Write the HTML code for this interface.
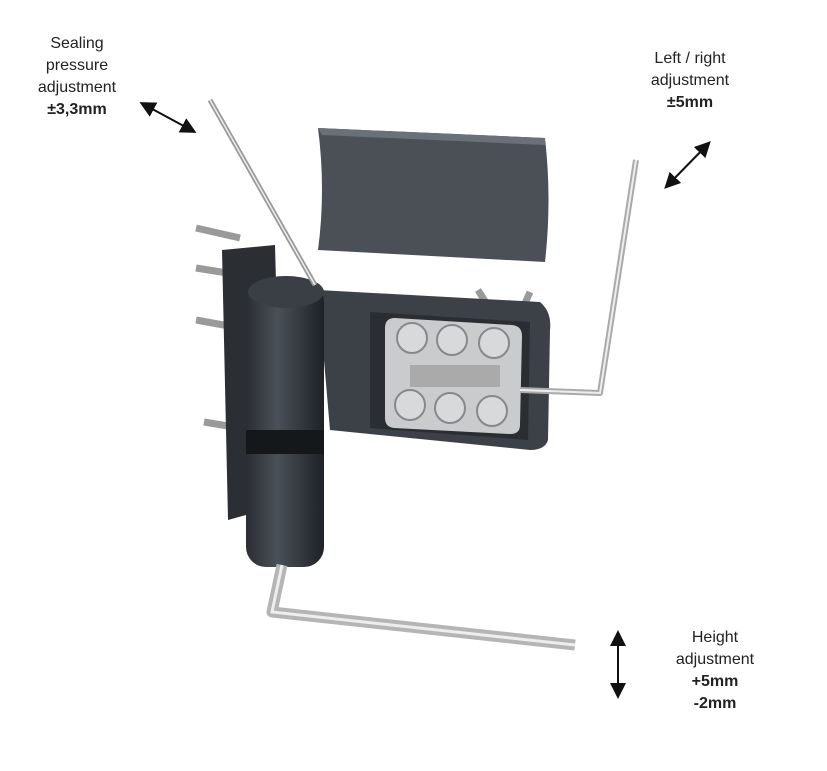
<!DOCTYPE html>
<html><head><meta charset="utf-8"><style>
html,body{margin:0;padding:0;background:#fff;}
.t{position:absolute;font-family:"Liberation Sans",sans-serif;font-size:16px;color:#222;text-align:center;line-height:22px;}
b{font-weight:bold;}
</style></head><body>
<div style="position:relative;width:827px;height:771px;overflow:hidden;">
<svg width="827" height="771" style="position:absolute;left:0;top:0">
<defs>
<marker id="a" markerWidth="8" markerHeight="8" refX="6" refY="4" orient="auto-start-reverse"><path d="M0,0 L8,4 L0,8 Z" fill="#111"/></marker>
<linearGradient id="cyl" x1="0" x2="1"><stop offset="0" stop-color="#2a2e33"/><stop offset="0.4" stop-color="#4a5058"/><stop offset="1" stop-color="#1e2226"/></linearGradient>
</defs>
<line x1="143" y1="104" x2="193" y2="131" stroke="#111" stroke-width="2" marker-start="url(#a)" marker-end="url(#a)"/>
<line x1="667" y1="186" x2="708" y2="144" stroke="#111" stroke-width="2" marker-start="url(#a)" marker-end="url(#a)"/>
<line x1="618" y1="634" x2="618" y2="695" stroke="#111" stroke-width="2" marker-start="url(#a)" marker-end="url(#a)"/>
<path d="M318,128 L545,138 Q552,200 545,262 L318,250 Q326,190 318,128 Z" fill="#4b5057"/>
<path d="M318,128 L545,138 L545,145 L322,135 Z" fill="#6a7078"/>
<g stroke="#9a9a9a" stroke-width="7">
<line x1="196" y1="228" x2="240" y2="238"/><line x1="196" y1="268" x2="240" y2="275"/>
<line x1="196" y1="320" x2="240" y2="328"/><line x1="204" y1="422" x2="240" y2="428"/>
</g>
<line x1="478" y1="290" x2="488" y2="306" stroke="#999" stroke-width="7"/>
<line x1="530" y1="292" x2="522" y2="310" stroke="#999" stroke-width="7"/>
<path d="M222,250 L275,245 L282,505 L228,520 Z" fill="#2b2f34"/>
<path d="M318,290 L540,302 Q552,312 550,330 L548,440 Q545,450 530,450 L330,430 Z" fill="#3c4147"/>
<path d="M370,312 L530,322 L528,440 L370,428 Z" fill="#2a2d31"/>
<path d="M395,318 L512,325 Q522,326 522,336 L520,425 Q520,434 510,434 L394,428 Q385,427 385,418 L385,328 Q385,318 395,318 Z" fill="#c9cbcd"/>
<g fill="#d8d9da" stroke="#888" stroke-width="2">
<circle cx="412" cy="338" r="15"/><circle cx="452" cy="340" r="15"/><circle cx="494" cy="343" r="15"/>
<circle cx="410" cy="405" r="15"/><circle cx="450" cy="408" r="15"/><circle cx="492" cy="411" r="15"/>
</g>
<rect x="410" y="365" width="90" height="22" fill="#aaa"/>
<rect x="246" y="282" width="78" height="285" rx="20" fill="url(#cyl)"/>
<ellipse cx="286" cy="292" rx="38" ry="16" fill="#3a3f45"/>
<rect x="246" y="430" width="78" height="24" fill="#15181b"/>
<path d="M210,100 L315,285" stroke="#999" stroke-width="5" fill="none"/>
<path d="M210,100 L315,285" stroke="#eee" stroke-width="1.5" fill="none"/>
<path d="M636,160 L600,393 L520,390" stroke="#aaa" stroke-width="6" fill="none" stroke-linejoin="round"/>
<path d="M636,160 L600,393 L520,390" stroke="#eee" stroke-width="2" fill="none"/>
<path d="M282,565 L272,612 L575,645" stroke="#b5b5b5" stroke-width="11" fill="none" stroke-linejoin="round"/>
<path d="M282,565 L272,612 L575,645" stroke="#eee" stroke-width="3" fill="none"/>
</svg>
<div class="t" style="left:17px;top:33px;width:120px;">Sealing<br>pressure<br>adjustment<br><b>±3,3mm</b></div>
<div class="t" style="left:630px;top:48px;width:120px;">Left / right<br>adjustment<br><b>±5mm</b></div>
<div class="t" style="left:655px;top:627px;width:120px;">Height<br>adjustment<br><b>+5mm<br>-2mm</b></div>
</div>
</body></html>
